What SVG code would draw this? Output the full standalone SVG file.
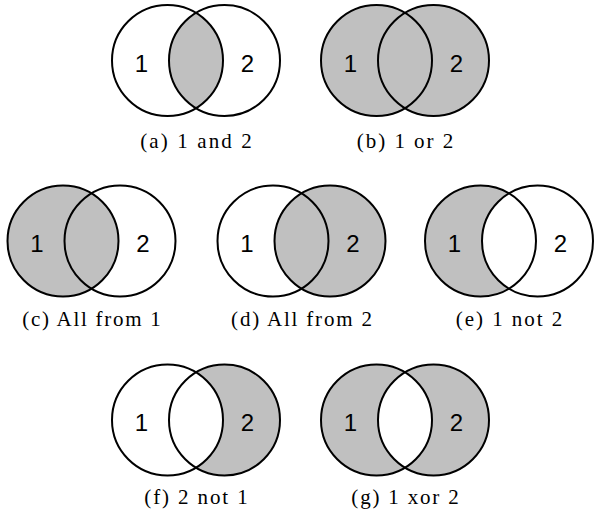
<svg xmlns="http://www.w3.org/2000/svg" width="594" height="512" viewBox="0 0 594 512">
<style>
.g{fill:#c0c0c0}
.w{fill:#ffffff}
.o{fill:none;stroke:#000;stroke-width:2}
.num{font-family:"Liberation Sans",Arial,sans-serif;font-size:24px;fill:#000;text-anchor:middle}
.cap{font-family:"Liberation Serif","Times New Roman",serif;font-size:21px;fill:#000;text-anchor:middle}
</style>
<defs>
<circle id="L" cx="-28.5" cy="0" r="55.5"/>
<circle id="R" cx="28.5" cy="0" r="55.5"/>
<path id="lens" d="M0,-47.62 A55.5,55.5 0 0 1 0,47.62 A55.5,55.5 0 0 1 0,-47.62 Z"/>
</defs>
<rect width="594" height="512" fill="#fff"/>

<g id="a" transform="translate(196,60.5)">
<use href="#lens" class="g"/>
<use href="#L" class="o"/><use href="#R" class="o"/>
<text class="num" x="-54.5" y="11">1</text><text class="num" x="51.5" y="11">2</text>
<text class="cap" x="0" y="87.5" textLength="111.6" lengthAdjust="spacing">(a) 1 and 2</text>
</g>

<g id="b" transform="translate(405,60.5)">
<use href="#L" class="g"/><use href="#R" class="g"/>
<use href="#L" class="o"/><use href="#R" class="o"/>
<text class="num" x="-54.5" y="11">1</text><text class="num" x="51.5" y="11">2</text>
<text class="cap" x="0" y="87.5" textLength="96.4" lengthAdjust="spacing">(b) 1 or 2</text>
</g>

<g id="c" transform="translate(91.5,241)">
<use href="#R" class="w"/><use href="#L" class="g"/>
<use href="#L" class="o"/><use href="#R" class="o"/>
<text class="num" x="-54.5" y="10.5">1</text><text class="num" x="51.5" y="10.5">2</text>
<text class="cap" x="0" y="85" textLength="138.3" lengthAdjust="spacing">(c) All from 1</text>
</g>

<g id="d" transform="translate(301.5,241)">
<use href="#L" class="w"/><use href="#R" class="g"/>
<use href="#L" class="o"/><use href="#R" class="o"/>
<text class="num" x="-54.5" y="10.5">1</text><text class="num" x="51.5" y="10.5">2</text>
<text class="cap" x="0" y="85" textLength="140.9" lengthAdjust="spacing">(d) All from 2</text>
</g>

<g id="e" transform="translate(509,241)">
<use href="#L" class="g"/><use href="#R" class="w"/>
<use href="#L" class="o"/><use href="#R" class="o"/>
<text class="num" x="-54.5" y="10.5">1</text><text class="num" x="51.5" y="10.5">2</text>
<text class="cap" x="0" y="85" textLength="106.6" lengthAdjust="spacing">(e) 1 not 2</text>
</g>

<g id="f" transform="translate(196,420)">
<use href="#R" class="g"/><use href="#L" class="w"/>
<use href="#L" class="o"/><use href="#R" class="o"/>
<text class="num" x="-54.5" y="10.5">1</text><text class="num" x="51.5" y="10.5">2</text>
<text class="cap" x="0" y="84" textLength="103.4" lengthAdjust="spacing">(f) 2 not 1</text>
</g>

<g id="g" transform="translate(405,420)">
<use href="#L" class="g"/><use href="#R" class="g"/><use href="#lens" class="w"/>
<use href="#L" class="o"/><use href="#R" class="o"/>
<text class="num" x="-54.5" y="10.5">1</text><text class="num" x="51.5" y="10.5">2</text>
<text class="cap" x="0" y="84" textLength="107.3" lengthAdjust="spacing">(g) 1 xor 2</text>
</g>

<g id="connectors"/>
</svg>
